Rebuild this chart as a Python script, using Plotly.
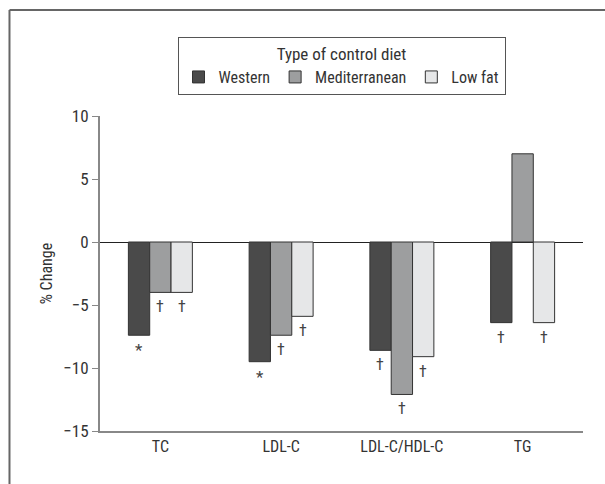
import plotly.graph_objects as go

categories = ["TC", "LDL-C", "LDL-C/HDL-C", "TG"]
series_names = ["Western", "Mediterranean", "Low fat"]
western = [-7.4, -9.5, -8.6, -6.4]
mediterranean = [-4.0, -7.4, -12.1, 7.0]
low_fat = [-4.0, -5.9, -9.1, -6.4]
western_marks = ["*", "*", "†", "†"]
mediterranean_marks = ["†", "†", "†", ""]
low_fat_marks = ["†", "†", "†", "†"]
y_ticks = [-15, -10, -5, 0, 5, 10]
y_tick_labels = ["\u221215", "\u221210", "\u22125", "0", "5", "10"]

colors = ["#4a4a4a", "#9d9e9f", "#e6e7e8"]
values = [western, mediterranean, low_fat]
marks = [western_marks, mediterranean_marks, low_fat_marks]

FONT = "Liberation Sans Narrow, Roboto Condensed, Arial Narrow, Liberation Sans, sans-serif"

fig = go.Figure()
for name, vals, col in zip(series_names, values, colors):
    fig.add_trace(go.Bar(
        x=categories, y=vals, name=name,
        marker=dict(color=col, line=dict(color="#333333", width=1)),
    ))

# significance markers below each bar
offsets = [-1, 0, 1]
annotations = []
for si, (vals, mk) in enumerate(zip(values, marks)):
    for ci, (v, m) in enumerate(zip(vals, mk)):
        if not m:
            continue
        annotations.append(dict(
            x=ci + offsets[si] * 0.178, y=v, xref="x", yref="y",
            text=m, showarrow=False, yanchor="top", yshift=-3,
            font=dict(size=16 if m == "†" else 17, color="#444444", family=FONT),
        ))

fig.update_layout(
    width=605, height=484,
    margin=dict(l=100, r=22, t=116, b=53, autoexpand=False),
    paper_bgcolor="white", plot_bgcolor="white",
    barmode="group", bargap=0.47, bargroupgap=0,
    font=dict(family=FONT, size=16, color="#333333"),
    showlegend=True,
    legend=dict(
        orientation="h", x=0.5, xanchor="center", y=1.251, yanchor="top",
        title=dict(text="Type of control diet", side="top center", font=dict(size=17)),
        bordercolor="#555555", borderwidth=1, bgcolor="white",
        font=dict(size=16), itemclick=False, tracegroupgap=0,
    ),
    annotations=annotations,
    xaxis=dict(
        showline=True, linecolor="#888888", linewidth=2, ticks="",
        tickfont=dict(size=16), showgrid=False, automargin=False,
    ),
    yaxis=dict(
        range=[-15, 10], tickvals=y_ticks, ticktext=y_tick_labels,
        showline=True, linecolor="#888888", linewidth=2,
        ticks="outside", ticklen=6, tickcolor="#888888", tickwidth=1,
        showgrid=False, zeroline=True, zerolinecolor="#222222", zerolinewidth=1,
        title=dict(text="% Change", font=dict(size=16), standoff=7),
        tickfont=dict(size=17), automargin=False,
    ),
    shapes=[
        dict(type="line", xref="paper", yref="paper", x0=-0.1874, x1=1.05, y0=1.3365, y1=1.3365,
             line=dict(color="#666666", width=2)),
        dict(type="line", xref="paper", yref="paper", x0=-0.1874, x1=-0.1874, y0=1.3365, y1=-0.2,
             line=dict(color="#666666", width=2)),
    ],
)

fig.write_html(
    "out.html",
    config={"displayModeBar": False},
    post_script="document.body.style.margin='0';document.body.style.overflow='hidden';",
)
